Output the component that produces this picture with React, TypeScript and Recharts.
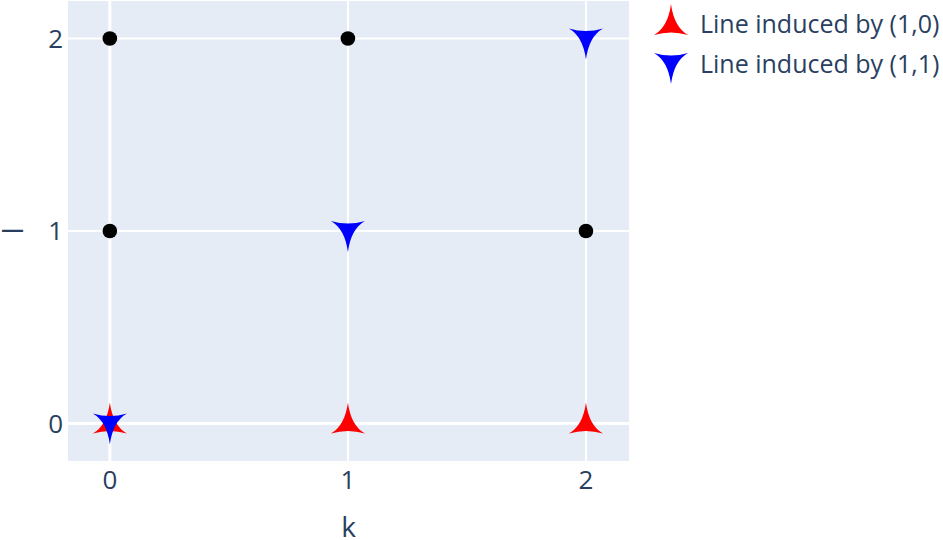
import { ScatterChart, Scatter, XAxis, YAxis, CartesianGrid, ReferenceLine, Label } from "recharts"

const axisTicks = [0, 1, 2]
const latticeDots = [
  { k: 0, l: 2 },
  { k: 1, l: 2 },
  { k: 0, l: 1 },
  { k: 2, l: 1 },
]
const line10 = [
  { k: 0, l: 0 },
  { k: 1, l: 0 },
  { k: 2, l: 0 },
]
const line11 = [
  { k: 0, l: 0 },
  { k: 1, l: 1 },
  { k: 2, l: 2 },
]
const seriesNames = ["Line induced by (1,0)", "Line induced by (1,1)"]

const INK = "#2a3f5f"
const FONT = "'Open Sans', verdana, arial, sans-serif"

const ARROW_UP = "M0,-21 Q3,2 17,10 Q0,5 -17,10 Q-3,2 0,-21Z"
const ARROW_DOWN = "M0,21 Q3,-2 17,-10 Q0,-5 -17,-10 Q-3,-2 0,21Z"

const dotShape = (p: any) => <circle cx={p.cx} cy={p.cy} r={7.3} fill="#000" />
const upShape = (p: any) => <path d={ARROW_UP} transform={`translate(${p.cx},${p.cy})`} fill="#ff0000" />
const downShape = (p: any) => <path d={ARROW_DOWN} transform={`translate(${p.cx},${p.cy})`} fill="#0000ff" />

// legend sits beside the plot, like plotly's default placement
function LegendBox() {
  return (
    <svg width={303} height={90} style={{ position: "absolute", left: 640, top: 0, overflow: "hidden" }}>
      <path d={ARROW_UP} transform="translate(31,25)" fill="#ff0000" />
      <text x={60} y={33} fontSize={25} fill={INK} fontFamily={FONT}>{seriesNames[0]}</text>
      <path d={ARROW_DOWN} transform="translate(31,63)" fill="#0000ff" />
      <text x={60} y={73} fontSize={25} fill={INK} fontFamily={FONT}>{seriesNames[1]}</text>
    </svg>
  )
}

const yTitle = () => (
  <text x={23} y={231} transform="rotate(-90 23 231)" textAnchor="middle" fill={INK} fontSize={28} fontFamily={FONT}>
    l
  </text>
)

export default function App() {
  return (
    <div style={{ position: "absolute", left: 0, top: 0, width: 943, height: 540, background: "#fff" }}>
      <ScatterChart width={943} height={540} margin={{ top: 0, right: 313, bottom: 0, left: 0 }}>
        <CartesianGrid fill="#e5ecf6" stroke="#fff" strokeWidth={2} />
        <ReferenceLine x={0} stroke="#fff" strokeWidth={3} />
        <ReferenceLine y={0} stroke="#fff" strokeWidth={3} />
        <XAxis
          type="number"
          dataKey="k"
          domain={[-0.18, 2.185]}
          ticks={axisTicks}
          height={78}
          tickLine={false}
          axisLine={false}
          tickSize={0}
          tickMargin={9}
          tick={{ fill: INK, fontSize: 26, fontFamily: FONT }}
          label={{ value: "k", position: "insideBottom", offset: 3, fill: INK, fontSize: 28, fontFamily: FONT }}
        />
        <YAxis
          type="number"
          dataKey="l"
          domain={[-0.2, 2.2]}
          ticks={axisTicks}
          width={67}
          tickLine={false}
          axisLine={false}
          tickSize={0}
          tickMargin={4}
          tick={{ fill: INK, fontSize: 26, fontFamily: FONT }}
        >
          <Label content={yTitle} />
        </YAxis>
        <Scatter data={latticeDots} shape={dotShape} isAnimationActive={false} />
        <Scatter name={seriesNames[0]} data={line10} shape={upShape} isAnimationActive={false} />
        <Scatter name={seriesNames[1]} data={line11} shape={downShape} isAnimationActive={false} />
      </ScatterChart>
      <LegendBox />
    </div>
  )
}
